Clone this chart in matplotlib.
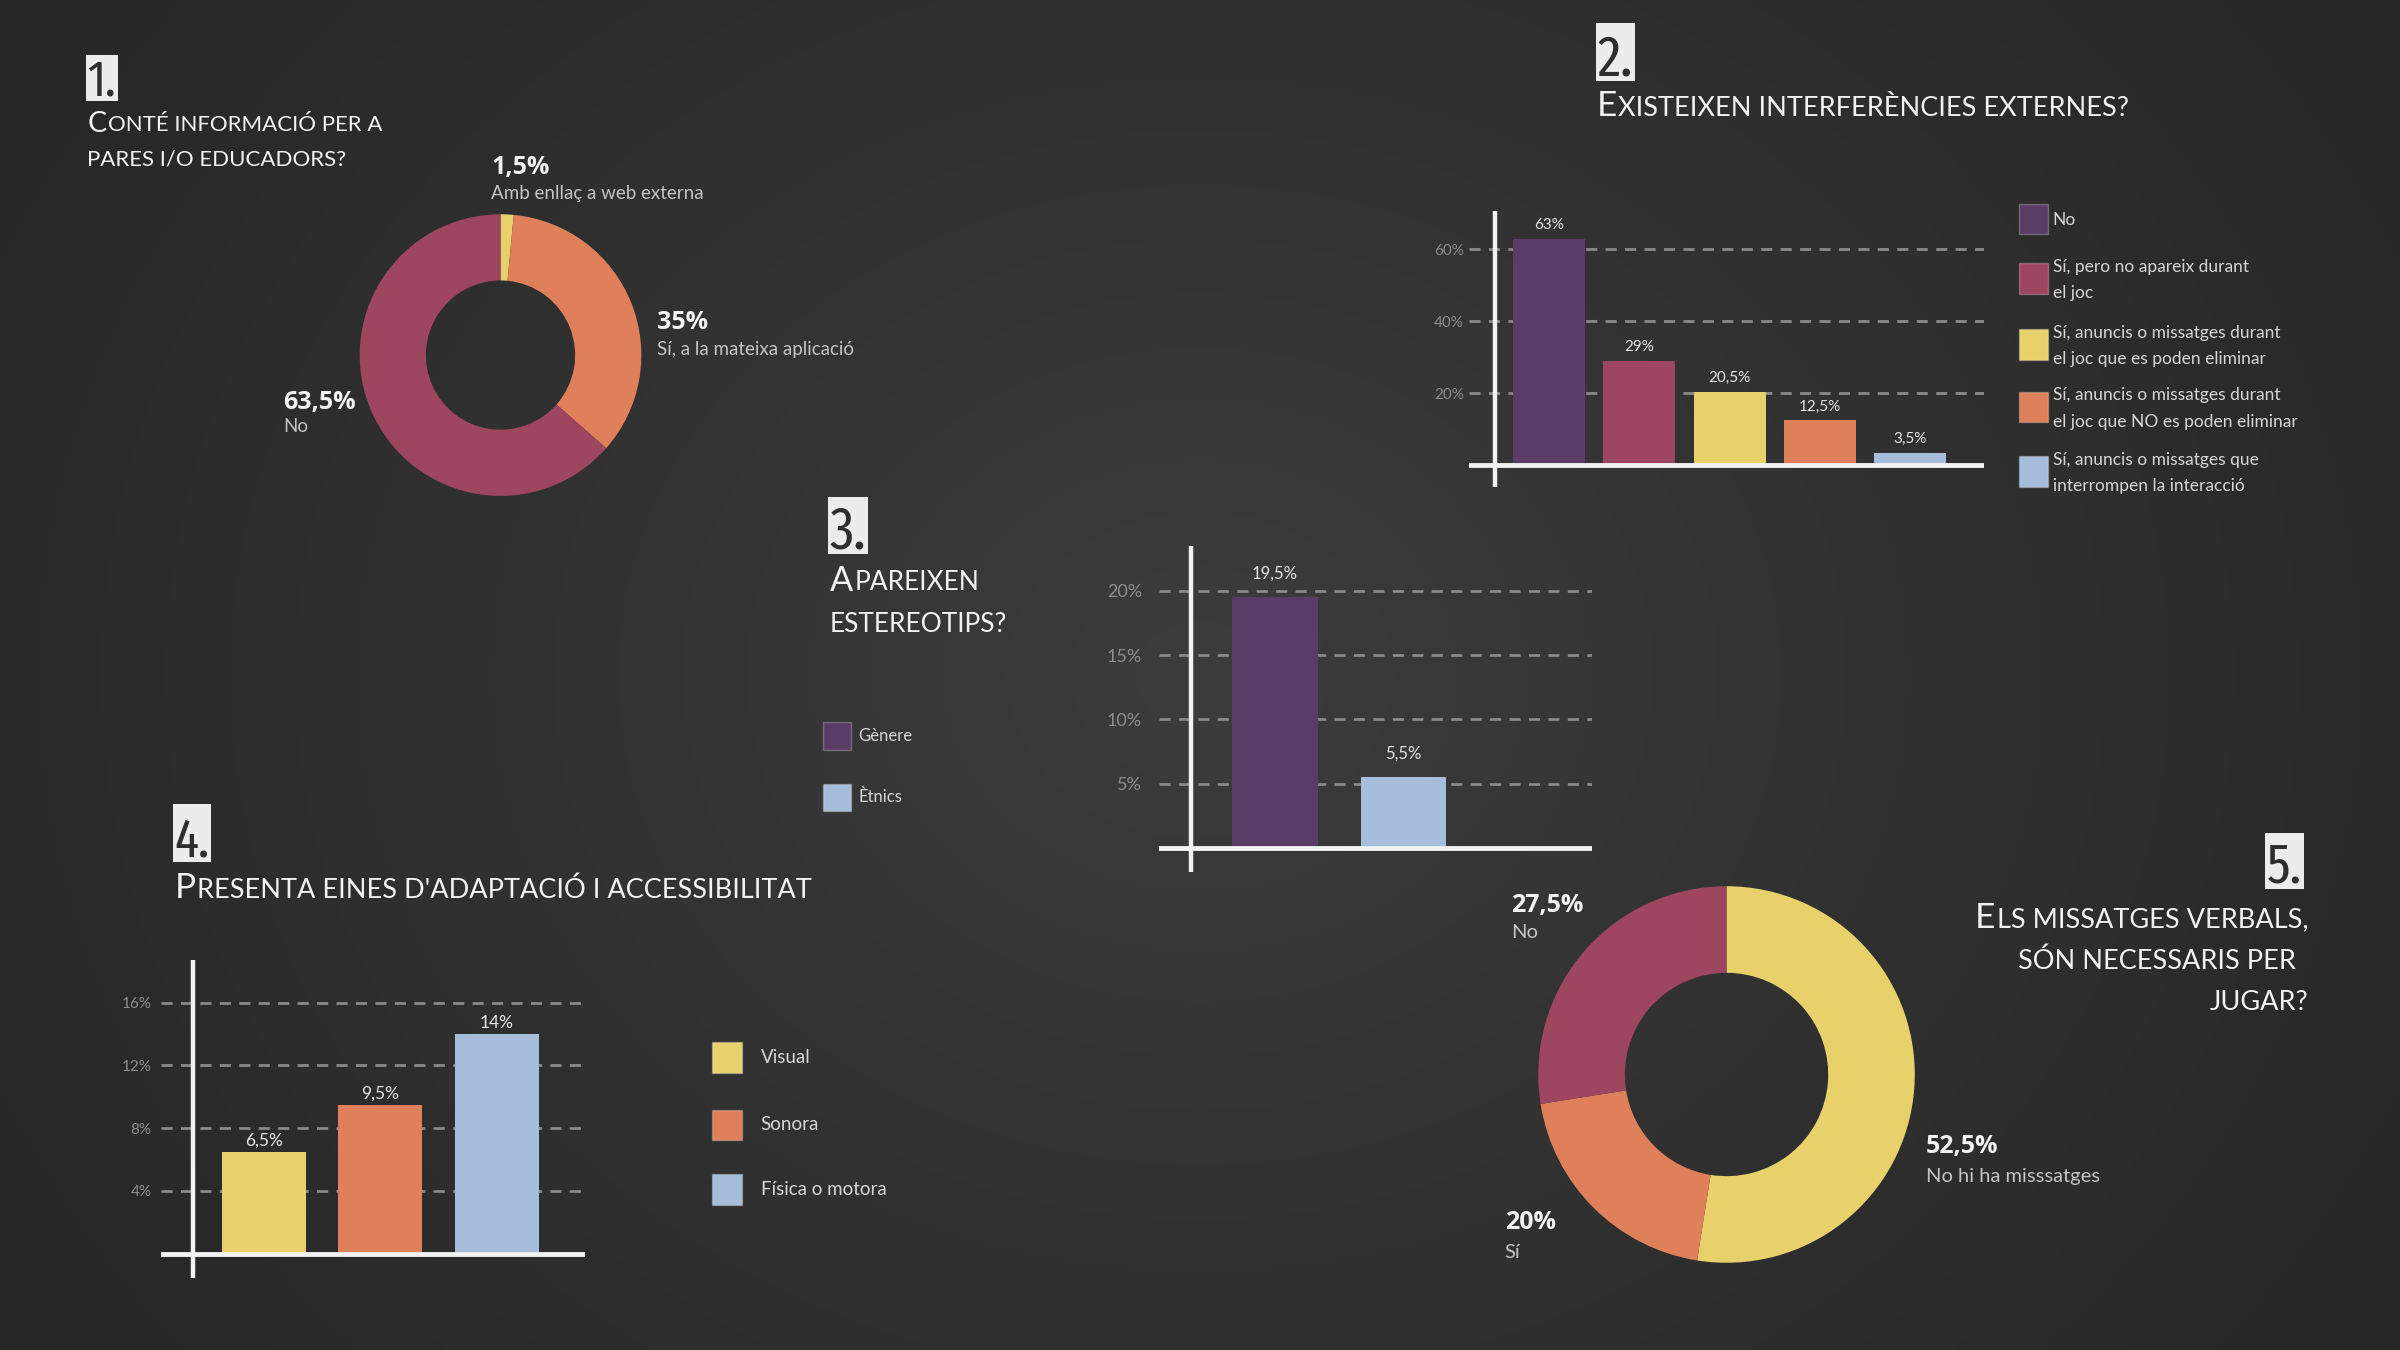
import numpy as np
import matplotlib.pyplot as plt
from matplotlib.patches import Rectangle
from matplotlib import font_manager
from matplotlib.font_manager import FontProperties

# 1. Conté informació per a pares i/o educadors?
info_labels = ['Amb enllaç a web externa', 'Sí, a la mateixa aplicació', 'No']
info_values = [1.5, 35, 63.5]

# 2. Existeixen interferències externes?
interf_labels = ['No',
                 'Sí, pero no apareix durant\nel joc',
                 'Sí, anuncis o missatges durant\nel joc que es poden eliminar',
                 'Sí, anuncis o missatges durant\nel joc que NO es poden eliminar',
                 'Sí, anuncis o missatges que\ninterrompen la interacció']
interf_values = [63, 29, 20.5, 12.5, 3.5]
interf_ticks = [20, 40, 60]

# 3. Apareixen estereotips?
estereo_labels = ['Gènere', 'Ètnics']
estereo_values = [19.5, 5.5]
estereo_ticks = [5, 10, 15, 20]

# 4. Eines d'adaptació i accessibilitat
access_labels = ['Visual', 'Sonora', 'Física o motora']
access_values = [6.5, 9.5, 14]
access_ticks = [4, 8, 12, 16]

# 5. Els missatges verbals, són necessaris per jugar?
verbal_labels = ['No hi ha misssatges', 'Sí', 'No']
verbal_values = [52.5, 20, 27.5]

PURPLE = '#5b3c66'
CRIMSON = '#9e4560'
YELLOW = '#e8d16a'
ORANGE = '#e0805b'
BLUE = '#a6bddc'
WHITE = '#f2f2f2'
GRID = '#8a8a8a'

plt.rcParams['font.family'] = ['Lato', 'DejaVu Sans']

# narrow face for the section numbers, if one is around
narrow = [f for f in font_manager.fontManager.ttflist
          if ('Condensed' in f.fname or 'Narrow' in f.fname)
          and f.style == 'normal' and f.weight in (400, 'normal', 'regular')
          and 'Mono' not in f.fname and 'Semi' not in f.fname]
narrow.sort(key=lambda f: ('Extra' not in f.fname, 'Noto' not in f.fname))
num_prop = FontProperties(fname=narrow[0].fname) if narrow else FontProperties(family='DejaVu Sans')

# reference layout was measured on a 1568x882 view
W, H = 1568, 882


def fx(x):
    return x / W


def fy(y):
    return 1 - y / H


def pct(v):
    return f'{v:g}'.replace('.', ',') + '%'


fig = plt.figure(figsize=(24, 13.5), dpi=100)
renderer = fig.canvas.get_renderer()
bg = fig.add_axes([0, 0, 1, 1])
bg.set_xlim(0, 1)
bg.set_ylim(0, 1)
bg.axis('off')

# soft radial background
yy, xx = np.mgrid[0:1:270j, 0:1:480j]
r = np.sqrt(((xx - 0.5) * 1.5) ** 2 + (yy - 0.5) ** 2)
shade = np.clip(1 - r / 0.85, 0, 1)
c_edge = np.array([0x27, 0x27, 0x27]) / 255
c_mid = np.array([0x3c, 0x3c, 0x3c]) / 255
img = c_edge + (c_mid - c_edge) * shade[..., None]
bg.imshow(img, extent=[0, 1, 0, 1], origin='lower', aspect='auto',
          interpolation='bilinear', zorder=0)


def number_box(x0, y0, x1, y1, s):
    bg.add_patch(Rectangle((fx(x0), fy(y1)), fx(x1) - fx(x0), fy(y0) - fy(y1),
                           facecolor='#ececec', edgecolor='none', zorder=2))
    t = bg.text(fx((x0 + x1) / 2), fy(y1) + 0.004, s, ha='center', va='baseline',
                color='#2e2e2e', fontproperties=num_prop, zorder=3)
    t.set_fontsize(40)
    box_w = (x1 - x0) * 2400 / W
    box_h = (y1 - y0) * 1350 / H
    ext = t.get_window_extent(renderer)
    size = min(40 * 0.92 * box_w / ext.width, box_h * 0.8 / 0.73 * 72 / 100)
    t.set_fontsize(size)


def small_caps(x, y, line, size, big=True, ha='left'):
    kw = dict(color=WHITE, fontweight='normal')
    if not big:
        bg.text(fx(x), fy(y), line.upper(), ha=ha, va='baseline', fontsize=size, **kw)
        return
    first, rest = line[0], line[1:].upper()
    off = 0.06 * size
    if ha == 'left':
        t0 = bg.text(fx(x), fy(y), first, ha='left', va='baseline', fontsize=size * 1.3, **kw)
        bg.annotate(rest, xy=(1, 0), xycoords=t0, xytext=(1, off), textcoords='offset points',
                    ha='left', va='bottom', fontsize=size, **kw)
    else:
        t1 = bg.text(fx(x), fy(y), rest, ha='right', va='baseline', fontsize=size, **kw)
        bg.annotate(first, xy=(0, 0), xycoords=t1, xytext=(-1, -off), textcoords='offset points',
                    ha='right', va='bottom', fontsize=size * 1.3, **kw)


def donut_label(x, y_val, y_sub, value, sub, sub_size=13.5):
    bg.text(fx(x), fy(y_val), pct(value), color=WHITE, fontsize=18, fontweight='bold',
            family=['Open Sans', 'DejaVu Sans'], va='baseline')
    bg.text(fx(x), fy(y_sub), sub, color='#c4c4c4', fontsize=sub_size, va='baseline')


def donut(cx, cy, rad, values, colors, width):
    ax = fig.add_axes([fx(cx - rad), fy(cy + rad), 2 * rad / W, 2 * rad / H])
    ax.pie(values, colors=colors, startangle=90, counterclock=False, radius=1,
           wedgeprops=dict(width=width, edgecolor='none'))
    ax.set_xlim(-1, 1)
    ax.set_ylim(-1, 1)
    ax.axis('off')
    return ax


def bar_panel(left, right, top, bottom, zero_y, px_per_unit, bar_px, first_x, step_px, axis_px,
              values, colors, ticks, tick_pad, tick_size, label_size, label_pad):
    ax = fig.add_axes([fx(left), fy(bottom), fx(right) - fx(left), fy(top) - fy(bottom)])
    ax.set_facecolor('none')
    xlim = ((left - first_x) / step_px, (right - first_x) / step_px)
    ylim = (-(bottom - zero_y) / px_per_unit, (zero_y - top) / px_per_unit)
    x = np.arange(len(values))
    ax.hlines(ticks, xlim[0], xlim[1], colors=GRID, linestyles=(0, (4, 3)), lw=2, zorder=1)
    bars = ax.bar(x, values, width=bar_px / step_px, color=colors, zorder=2)
    ax.bar_label(bars, labels=[pct(v) for v in values], padding=label_pad, color='#e6e6e6',
                 fontsize=label_size)
    ax.axhline(0, color=WHITE, lw=3.5, zorder=3)
    ax.axvline((axis_px - first_x) / step_px, color=WHITE, lw=3.2, zorder=3)
    ax.set_xlim(xlim)
    ax.set_ylim(ylim)
    ax.set_xticks([])
    ax.set_yticks(ticks, [f'{t}%' for t in ticks])
    ax.tick_params(axis='y', length=0, pad=tick_pad, labelcolor='#8e8e8e', labelsize=tick_size)
    for s in ax.spines.values():
        s.set_visible(False)
    return ax


def legend_square(x0, y0, size_x, size_y, color):
    bg.add_patch(Rectangle((fx(x0), fy(y0 + size_y)), size_x / W, size_y / H,
                           facecolor=color, edgecolor=(1, 1, 1, 0.25), lw=1, zorder=2))


# ---- 1 ----
number_box(56, 36, 77, 66, '1.')
small_caps(57, 86, 'Conté informació per a', 16)
small_caps(57, 108, 'pares i/o educadors?', 16, big=False)
donut(327, 232, 92, info_values, [YELLOW, ORANGE, CRIMSON], 0.47)
donut_label(321, 114, 130, info_values[0], info_labels[0])
donut_label(429, 215, 232, info_values[1], info_labels[1])
donut_label(185, 267, 282, info_values[2], info_labels[2])

# ---- 2 ----
number_box(1043, 15, 1068, 53, '2.')
small_caps(1043, 76, 'Existeixen interferències externes?', 19.5)
bar_panel(960, 1296, 138, 318, 304, 47 / 20, 47, 1012, 59, 977,
          interf_values, [PURPLE, CRIMSON, YELLOW, ORANGE, BLUE], interf_ticks,
          tick_pad=4, tick_size=11, label_size=11, label_pad=5)
for (yc, lab, col) in zip([143, 182, 225, 266, 308], interf_labels,
                          [PURPLE, CRIMSON, YELLOW, ORANGE, BLUE]):
    legend_square(1319, yc - 10, 19, 20, col)
    bg.text(fx(1341), fy(yc + 1), lab, color='#d6d6d6', fontsize=12.5, va='center',
            linespacing=1.8)

# ---- 3 ----
number_box(541, 325, 567, 362, '3.')
small_caps(542, 386, 'Apareixen', 19)
small_caps(542, 413, 'estereotips?', 19, big=False)
bar_panel(757, 1040, 357, 570, 554, 8.4, 56, 833, 84, 778,
          estereo_values, [PURPLE, BLUE], estereo_ticks,
          tick_pad=12, tick_size=13, label_size=12, label_pad=11)
for (yc, lab, col) in zip([481, 521], estereo_labels, [PURPLE, BLUE]):
    legend_square(538, yc - 9, 18, 18, col)
    bg.text(fx(561), fy(yc), lab, color='#d6d6d6', fontsize=12, va='center')

# ---- 4 ----
number_box(113, 525, 138, 563, '4.')
small_caps(114, 587, "Presenta eines d'adaptació i accessibilitat", 19.5)
bar_panel(105, 382, 627, 835, 819, 10.25, 55, 172.5, 76, 126,
          access_values, [YELLOW, ORANGE, BLUE], access_ticks,
          tick_pad=6.5, tick_size=11, label_size=12.5, label_pad=2)
for (yc, lab, col) in zip([691, 735, 777], access_labels, [YELLOW, ORANGE, BLUE]):
    legend_square(465, yc - 10, 20, 20, col)
    bg.text(fx(497), fy(yc), lab, color='#d6d6d6', fontsize=13.5, va='center')

# ---- 5 ----
number_box(1480, 544, 1505, 581, '5.')
small_caps(1508, 606, 'Els missatges verbals,', 19.5, ha='right')
small_caps(1500, 633, 'són necessaris per', 19.5, big=False, ha='right')
small_caps(1508, 660, 'jugar?', 19.5, big=False, ha='right')
donut(1128, 702, 123, verbal_values, [YELLOW, ORANGE, CRIMSON], 0.46)
donut_label(1258, 753, 772, verbal_values[0], verbal_labels[0], sub_size=14.5)
donut_label(983, 803, 822, verbal_values[1], verbal_labels[1], sub_size=14.5)
donut_label(987, 596, 613, verbal_values[2], verbal_labels[2], sub_size=14.5)

fig.savefig('out.png', dpi=100)
